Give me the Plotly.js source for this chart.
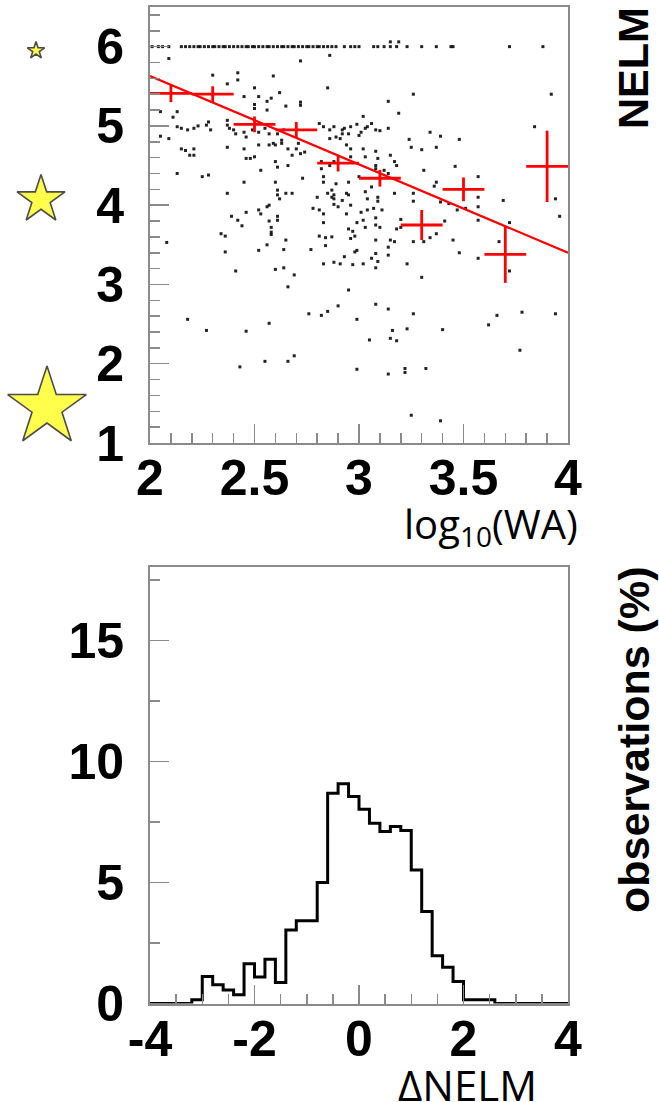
<!DOCTYPE html>
<html><head><meta charset="utf-8">
<script src="https://cdn.plot.ly/plotly-3.0.1.min.js"></script>
<style>html,body{margin:0;padding:0;background:#fff}</style>
</head><body><div id="chart" style="width:659px;height:1102px"></div>
<script>
// ---------- DATA ----------
// Scatter of individual observations: log10(WA) vs NELM
const obsWA = [
2.01,2.04,2.06,2.09,2.15,2.17,2.19,2.21,2.23,2.24,2.26,2.28,2.30,2.31,2.33,2.35,2.36,2.38,2.40,2.42,2.44,2.46,2.47,2.49,2.50,2.52,2.54,2.56,2.57,2.59,2.61,2.63,2.64,2.66,2.68,2.69,2.71,2.73,2.75,2.76,2.78,2.80,2.81,2.83,2.85,2.87,2.89,2.93,2.96,2.98,3.00,3.07,3.09,3.12,3.15,3.18,3.23,3.30,3.37,3.44,3.45,3.72,3.88,3.15,3.19,
2.09,2.72,2.86,2.30,2.42,2.42,2.59,2.37,2.50,2.85,2.62,2.45,2.52,2.56,2.58,2.72,2.72,2.65,2.50,2.50,
2.56,2.05,2.13,2.11,2.28,2.27,2.29,2.13,2.15,2.18,2.21,2.23,2.37,2.37,2.38,2.40,2.05,2.09,2.41,2.45,
2.46,2.49,2.52,2.55,2.57,2.61,2.63,2.64,2.81,2.83,2.86,2.88,2.92,2.93,2.96,2.99,2.86,2.89,2.91,2.92,
2.95,2.52,2.57,2.59,2.60,2.63,2.66,2.37,2.71,2.70,2.15,2.17,2.21,2.19,2.21,2.45,2.46,2.48,2.50,2.68,
2.72,2.74,2.60,2.61,2.66,2.82,2.82,2.86,2.88,2.94,2.96,2.96,3.00,2.13,2.25,2.28,2.53,2.45,2.60,2.73,
2.83,2.83,2.89,2.95,2.37,2.61,2.61,2.65,2.68,2.85,2.87,2.88,2.95,
2.62,2.80,2.87,2.88,2.92,2.57,2.56,2.52,2.46,2.39,2.42,2.44,2.53,2.57,2.58,2.58,2.58,2.61,2.61,2.78,
2.81,2.83,2.83,2.88,2.90,2.96,2.94,2.95,2.97,2.98,2.96,2.99,2.98,2.34,2.36,2.08,2.36,2.52,2.56,2.65,
2.64,2.77,2.81,2.84,2.87,2.84,2.93,2.97,2.83,2.88,2.41,2.60,2.64,2.69,2.66,2.95,2.90,2.85,2.82,2.76,
2.99,2.18,2.27,2.46,2.57,2.69,2.66,2.55,2.43,2.99,
3.26,3.92,3.14,3.19,3.02,3.06,3.04,3.03,3.01,3.00,3.08,3.10,3.14,3.34,3.39,3.24,3.48,3.84,3.25,3.30,
3.37,3.02,3.03,3.08,3.09,3.15,3.17,3.18,3.08,3.08,3.12,3.14,3.31,3.46,3.57,3.37,3.36,3.06,3.03,3.17,
3.26,3.09,3.04,3.94,3.69,
3.09,3.26,3.39,3.43,3.57,3.57,3.96,3.01,3.04,3.07,3.11,3.08,3.08,3.10,3.03,3.20,3.18,3.20,3.47,3.51,
3.57,3.41,3.72,3.34,3.37,3.31,3.26,3.08,3.15,3.17,3.14,3.45,3.67,3.08,3.14,3.06,3.09,3.08,3.02,3.23,
3.48,3.57,3.72,3.30,3.08,3.14,3.26,3.66,3.78,3.94,3.62,3.16,3.23,3.40,3.05,3.15,3.18,3.77,3.22,3.22,
3.32,3.14,3.25,3.39,2.94,2.99,3.02,2.91
];
const obsNELM = [
6,6,6,6,6,6,6,6,6,6,6,6,6,6,6,6,6,6,6,6,6,6,6,6,6,6,6,6,6,6,6,6,6,6,6,6,6,6,6,6,6,6,6,6,6,6,6,6,6,6,6,6,6,6,6,6,6,6,6,6,6,6,6,6.06,6.06,
5.85,5.82,5.89,5.64,5.67,5.58,5.63,5.53,5.48,5.48,5.42,5.37,5.37,5.31,5.35,5.30,5.26,5.25,5.27,5.22,
5.20,5.18,5.18,5.11,5.05,5.01,4.95,4.99,4.97,4.95,4.97,5.00,5.07,5.01,4.97,4.95,4.87,4.84,4.90,4.92,
4.86,4.95,4.92,4.97,4.90,4.90,4.82,4.95,5.03,4.99,4.95,4.99,4.95,4.97,4.99,5.02,4.84,4.86,4.84,4.90,
4.90,4.76,4.76,4.78,4.76,4.78,4.71,4.73,4.78,4.71,4.71,4.69,4.71,4.63,4.63,4.71,4.59,4.59,4.61,4.63,
4.65,4.67,4.55,4.48,4.50,4.55,4.46,4.50,4.55,4.76,4.71,4.61,4.36,4.40,4.36,4.38,4.44,4.29,4.29,4.34,
4.36,4.29,4.27,4.29,4.15,4.19,4.13,4.15,4.15,4.15,4.19,4.13,4.13,
4.08,4.10,4.10,4.08,4.06,4.00,3.98,3.94,3.91,3.86,3.81,3.74,3.89,3.80,3.72,3.66,3.63,3.86,3.81,3.96,
3.94,3.89,3.78,4.01,3.98,4.00,3.89,3.70,3.67,3.61,3.58,3.43,3.41,3.64,3.61,3.53,3.41,3.43,3.50,3.56,
3.44,3.44,3.61,3.59,3.60,3.49,3.35,3.25,3.26,3.28,3.17,3.19,3.21,3.12,2.97,2.93,2.73,2.66,2.61,2.63,
2.56,2.56,2.42,2.41,2.51,2.10,2.03,2.03,1.96,1.93,
5.40,5.40,5.31,5.16,5.12,5.03,4.99,4.97,4.92,4.88,4.95,4.94,4.97,4.92,4.87,4.83,4.83,4.99,4.73,4.70,
4.73,4.71,4.61,4.68,4.59,4.63,4.55,4.50,4.50,4.46,4.44,4.40,4.44,4.49,4.36,4.29,4.24,4.23,4.17,4.15,
4.15,4.10,4.08,4.08,4.06,
4.05,4.05,4.04,4.02,4.10,3.98,3.86,3.91,3.94,3.96,3.94,3.84,3.75,3.72,3.72,3.82,3.70,3.72,3.94,3.96,
3.81,3.80,3.78,3.59,3.64,3.54,3.54,3.56,3.56,3.54,3.47,3.56,3.54,3.39,3.37,3.33,3.29,3.21,3.26,3.26,
3.40,3.33,3.17,3.09,2.75,2.69,2.63,2.61,2.65,2.63,2.49,2.42,2.44,2.43,2.30,2.32,2.29,2.17,1.94,1.89,
1.94,1.87,1.35,1.28,4.15,3.78,3.81,3.26
];

// Binned means (red crosses)
const binWA     = [2.1, 2.3, 2.5, 2.7, 2.9, 3.1, 3.3, 3.5, 3.7, 3.9];
const binWAerr  = [0.1, 0.1, 0.1, 0.1, 0.1, 0.1, 0.1, 0.1, 0.1, 0.1];
const binNELM   = [5.41, 5.40, 5.02, 4.95, 4.53, 4.34, 3.75, 4.20, 3.38, 4.49];
const binNELMerr= [0.11, 0.10, 0.10, 0.10, 0.105, 0.105, 0.19, 0.15, 0.36, 0.45];

// Linear fit
const fitWA   = [2, 4];
const fitNELM = [5.63, 3.40];

// Star-brightness legend (NELM levels)
const starNELM = [5.95, 4.07, 1.45];

// Histogram of ΔNELM (percent of observations), 40 bins of 0.2 from -4 to 4
const histLow = -4, histWidth = 0.2;
const histPct = [
0, 0, 0, 0, 0.16, 1.12, 0.77, 0.56, 0.36, 1.64,
1.09, 1.83, 0.87, 3.04, 3.42, 3.42, 5.0, 8.69, 9.08, 8.55,
8.03, 7.45, 7.11, 7.31, 7.15, 5.52, 3.80, 1.97, 1.50, 0.91,
0.16, 0.16, 0.16, 0, 0, 0, 0, 0, 0, 0
];

// Tick labels
const topXTicks = [2, 2.5, 3, 3.5, 4];
const topYTicks = [1, 2, 3, 4, 5, 6];
const botXTicks = [-4, -2, 0, 2, 4];
const botXText  = ['-4', '-2', '0', '2', '4'];
const botYTicks = [0, 5, 10, 15];

// ---------- LAYOUT HELPERS ----------
const W = 659, H = 1102;
const px = v => v / W;
const py = v => 1 - v / H;

const histEdges = histPct.map((_, i) => +(histLow + i * histWidth).toFixed(2)).concat([+(histLow + histPct.length * histWidth).toFixed(2)]);
const histY = histPct.concat([histPct[histPct.length - 1]]);

const frameColor = '#8a8a8a';
const tickFont = {family: 'Liberation Sans, Arial, sans-serif', size: 50, color: '#000', weight: 700};

function axisBase(extra) {
  return Object.assign({
    showline: true, mirror: true, linecolor: frameColor, linewidth: 2,
    ticks: 'inside', ticklen: 19, tickwidth: 1.5, tickcolor: frameColor,
    showgrid: false, zeroline: false, tickfont: tickFont, fixedrange: true
  }, extra);
}

const traces = [
  {
    type: 'scatter', mode: 'markers', x: obsWA, y: obsNELM, xaxis: 'x', yaxis: 'y',
    marker: {symbol: 'square', size: 3, color: 'rgba(10,10,10,0.9)', line: {width: 0}},
    hoverinfo: 'skip', showlegend: false
  },
  {
    type: 'scatter', mode: 'lines', x: fitWA, y: fitNELM, xaxis: 'x', yaxis: 'y',
    line: {color: '#ff0000', width: 2.2}, showlegend: false, hoverinfo: 'skip'
  },
  {
    type: 'scatter', mode: 'markers', x: binWA, y: binNELM, xaxis: 'x', yaxis: 'y',
    marker: {size: 1, color: '#ff0000'},
    error_x: {type: 'data', array: binWAerr, visible: true, width: 0, thickness: 2.8, color: '#ff0000'},
    error_y: {type: 'data', array: binNELMerr, visible: true, width: 0, thickness: 2.8, color: '#ff0000'},
    showlegend: false, hoverinfo: 'skip'
  },
  {
    type: 'scatter', mode: 'markers', x: [36, 41, 47], y: starNELM, xaxis: 'x3', yaxis: 'y',
    marker: {symbol: 'star', size: [13, 36, 59], color: '#ffff00', line: {color: '#000', width: 1.6}},
    cliponaxis: false, showlegend: false, hoverinfo: 'skip'
  },
  {
    type: 'scatter', mode: 'lines', x: histEdges, y: histY, xaxis: 'x2', yaxis: 'y2',
    line: {shape: 'hv', color: '#000', width: 3}, showlegend: false, hoverinfo: 'skip'
  }
];

const layout = {
  width: W, height: H,
  margin: {l: 0, r: 0, t: 0, b: 0},
  paper_bgcolor: '#fff', plot_bgcolor: '#fff',
  showlegend: false,
  xaxis: axisBase({domain: [px(150), px(568)], range: [2, 4], anchor: 'y',
    tickvals: topXTicks, ticklabelstandoff: -10,
    minor: {dtick: 0.1, tick0: 2, ticks: 'inside', ticklen: 10, tickwidth: 1.5, tickcolor: frameColor}}),
  yaxis: axisBase({domain: [py(443), py(7)], range: [1, 6.5], anchor: 'x',
    tickvals: topYTicks, ticklabelstandoff: 14,
    minor: {dtick: 0.2, tick0: 1, ticks: 'inside', ticklen: 10, tickwidth: 1.5, tickcolor: frameColor}}),
  xaxis2: axisBase({domain: [px(150), px(568)], range: [-4, 4], anchor: 'y2',
    tickvals: botXTicks, ticktext: botXText, ticklabelstandoff: -10,
    minor: {dtick: 0.5, tick0: -4, ticks: 'inside', ticklen: 10, tickwidth: 1.5, tickcolor: frameColor}}),
  yaxis2: axisBase({domain: [py(1003.5), py(566.7)], range: [0, 18.05], anchor: 'x2',
    tickvals: botYTicks, ticklabelstandoff: 14,
    minor: {dtick: 2.5, tick0: 0, ticks: 'inside', ticklen: 10, tickwidth: 1.5, tickcolor: frameColor}}),
  xaxis3: {domain: [0, px(150)], range: [0, 150], anchor: 'y', visible: false, fixedrange: true},
  annotations: [
    {text: 'log<sub>10</sub>(WA)', xref: 'paper', yref: 'paper', x: px(491), y: py(526),
     xanchor: 'center', yanchor: 'middle', showarrow: false,
     font: {family: 'Open Sans, sans-serif', size: 40, color: '#000'}},
    {text: 'ΔNELM', xref: 'paper', yref: 'paper', x: px(467), y: py(1084),
     xanchor: 'center', yanchor: 'middle', showarrow: false,
     font: {family: 'Open Sans, sans-serif', size: 42, color: '#000'}},
    {text: 'NELM', xref: 'paper', yref: 'paper', x: px(633), y: py(68), textangle: -90,
     xanchor: 'center', yanchor: 'middle', showarrow: false,
     font: {family: 'Liberation Sans, Arial, sans-serif', size: 43, color: '#000', weight: 700}},
    {text: 'observations (%)', xref: 'paper', yref: 'paper', x: px(634), y: py(740), textangle: -90,
     xanchor: 'center', yanchor: 'middle', showarrow: false,
     font: {family: 'Liberation Sans, Arial, sans-serif', size: 43, color: '#000', weight: 700}}
  ]
};

Plotly.newPlot('chart', traces, layout, {staticPlot: true, displayModeBar: false});
</script></body></html>
